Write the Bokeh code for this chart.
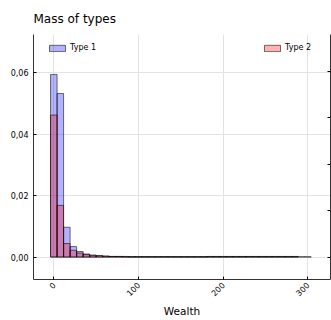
import math
from bokeh.plotting import figure
from bokeh.models import (ColumnDataSource, Range1d, LinearAxis, FixedTicker,
                          Legend, LegendItem)
from bokeh.embed import file_html
from bokeh.resources import INLINE

# ---- data ----
bin_width = 7.7
type1_mass = [0.0594, 0.0532, 0.0097, 0.0034, 0.0018, 0.0010, 0.0006, 0.0004,
              0.0003, 0.0002, 0.0002, 0.0001, 0.0001, 0.0001, 0.0001, 0.0001,
              0.0001, 0.0001, 0.0001, 0.0001, 0.0001, 0.0001, 0.0001, 0.0001,
              0.0002, 0.0002, 0.0002, 0.0002, 0.0002, 0.0002, 0.0002, 0.0002,
              0.0002, 0.0002, 0.0002, 0.0002, 0.0002, 0.0002]
type2_mass = [0.0462, 0.0168, 0.0044, 0.0022, 0.0013, 0.0008, 0.0006, 0.0005,
              0.0003, 0.0002, 0.0002, 0.0002, 0.0001, 0.0001, 0.0001, 0.0001,
              0.0001, 0.0001, 0.0001, 0.0001, 0.0001, 0.0001, 0.0001, 0.0001,
              0.0001, 0.0001, 0.0001, 0.0001, 0.0001, 0.0001, 0.0001, 0.0001,
              0.0001, 0.0001, 0.0001, 0.0001, 0.0001, 0.0001, 0.0001, 0.0001]
y_ticks = [0.0, 0.02, 0.04, 0.06]
y_tick_labels = ["0,00", "0,02", "0,04", "0,06"]
x_ticks = [0, 100, 200, 300]
right_ticks = [0, 1, 2, 3, 4]
series_names = ["Type 1", "Type 2"]


def edges(vals):
    left = [(i - 0.5) * bin_width for i in range(len(vals))]
    right = [(i + 0.5) * bin_width for i in range(len(vals))]
    return dict(left=left, right=right, top=vals, bottom=[0.0] * len(vals))


FONT = "DejaVu Sans"
SPINE = "#333333"

p = figure(width=331, height=320, output_backend="svg", toolbar_location=None,
           x_range=Range1d(-24, 327), y_range=Range1d(-0.0073, 0.0724),
           min_border_left=33, min_border_right=1, min_border_top=30,
           min_border_bottom=39)
p.title.text = "Mass of types"
p.title.text_font = FONT
p.title.text_font_size = "12px"
p.title.text_font_style = "normal"
p.title.text_color = "black"
p.title.offset = 0
p.title.standoff = 18
p.title.text_line_height = 0.6
p.outline_line_color = None
p.background_fill_color = "white"

src1 = ColumnDataSource(edges(type1_mass))
src2 = ColumnDataSource(edges(type2_mass))
r1 = p.quad(left="left", right="right", top="top", bottom="bottom", source=src1,
            fill_color="blue", fill_alpha=0.3, line_color="black", line_alpha=0.55,
            line_width=1)
r2 = p.quad(left="left", right="right", top="top", bottom="bottom", source=src2,
            fill_color="red", fill_alpha=0.3, line_color="black", line_alpha=0.55,
            line_width=1)

# axes
xa = p.xaxis[0]
xa.ticker = FixedTicker(ticks=x_ticks)
xa.axis_label = "Wealth"
xa.axis_label_text_font = FONT
xa.axis_label_text_font_size = "10.5px"
xa.axis_label_text_font_style = "normal"
xa.axis_label_text_color = "black"
xa.axis_label_standoff = 3
xa.major_label_orientation = math.pi / 4
xa.major_label_text_font = FONT
xa.major_label_text_font_size = "8px"
xa.major_label_text_color = "black"
xa.major_label_standoff = 4
xa.major_tick_in = 3
xa.major_tick_out = 0
xa.minor_tick_line_color = None
xa.axis_line_color = SPINE
xa.major_tick_line_color = "black"

ya = p.yaxis[0]
ya.ticker = FixedTicker(ticks=y_ticks)
ya.major_label_overrides = {t: l for t, l in zip(y_ticks, y_tick_labels)}
ya.major_label_text_font = FONT
ya.major_label_text_font_size = "8px"
ya.major_label_text_color = "black"
ya.major_label_standoff = 5
ya.major_tick_in = 3
ya.major_tick_out = 0
ya.minor_tick_line_color = None
ya.axis_line_color = SPINE
ya.major_tick_line_color = "black"

p.extra_y_ranges = {"right": Range1d(-0.484, 4.80)}
ra = LinearAxis(y_range_name="right", ticker=FixedTicker(ticks=right_ticks))
ra.major_label_overrides = {t: "" for t in right_ticks}
ra.major_label_standoff = 0
ra.axis_label_standoff = 0
ra.major_tick_in = 3
ra.major_tick_out = 0
ra.minor_tick_line_color = None
ra.axis_line_color = SPINE
ra.major_tick_line_color = "black"
ra.major_label_text_font_size = "0px"
p.add_layout(ra, "right")

p.xgrid.grid_line_color = "#e3e3e3"
p.ygrid.grid_line_color = "#e3e3e3"
p.xgrid.ticker = FixedTicker(ticks=x_ticks)
p.ygrid.ticker = FixedTicker(ticks=y_ticks)

# legends
def make_legend(name, rend, loc):
    lg = Legend(items=[LegendItem(label=name, renderers=[rend])], location=loc,
                padding=0, margin=0, spacing=0, glyph_width=20, glyph_height=8,
                label_height=8, label_standoff=3, label_text_font=FONT,
                label_text_font_size="8px", label_text_color="black",
                border_line_color=None, background_fill_alpha=0)
    p.add_layout(lg, "center")

make_legend(series_names[0], r1, (14, 227))
make_legend(series_names[1], r2, (229, 227))

open("out.html", "w").write(file_html(p, INLINE))
